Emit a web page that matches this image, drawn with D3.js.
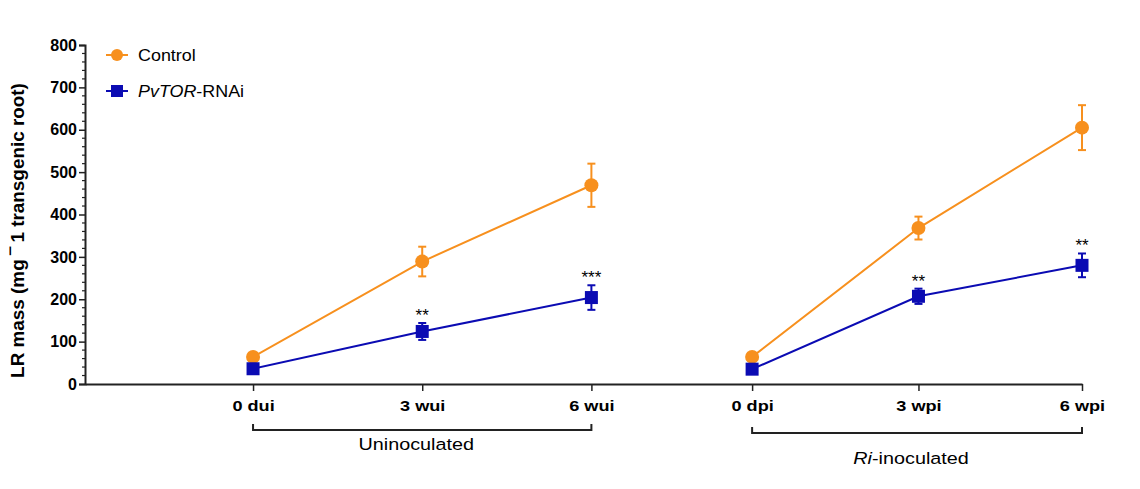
<!DOCTYPE html>
<html>
<head>
<meta charset="utf-8">
<script src="https://cdn.jsdelivr.net/npm/d3@7"></script>
<style>
  body { margin: 0; background: #fff; }
  text { font-family: Arial, "Liberation Sans", sans-serif; }
</style>
</head>
<body>
<div id="chart"></div>
<script>
// time points (x position in weeks along the axis)
const timeLabels = ["0 dui", "3 wui", "6 wui", "0 dpi", "3 wpi", "6 wpi"];
const timeX = [0, 3, 6, 8.85, 11.8, 14.7];

const controlMean = [64, 289, 469, 64, 368, 605];
const controlErr  = [0, 35, 51, 0, 27, 53];
const rnaiMean    = [36, 124, 204, 35, 207, 280];
const rnaiErr     = [0, 20, 29, 0, 18, 28];
const rnaiSig     = ["", "**", "***", "", "**", "**"];

const groups = [
    { name: "Uninoculated", from: 0, to: 2, y: 430, ty: 450 },
    { name: "Ri-inoculated", from: 3, to: 5, y: 433, ty: 464 }
];

const orange = "#f7901e", blue = "#0b0bb3";

const width = 1140, height = 489;
const svg = d3.select("#chart").append("svg")
    .attr("width", width)
    .attr("height", height);

const x = d3.scaleLinear().domain([-2.98, 14.7]).range([85, 1082]);
const y = d3.scaleLinear().domain([0, 800]).range([384, 45]);

// y axis
const yAxis = svg.append("g")
    .attr("transform", `translate(${x(-2.98)},0)`)
    .call(d3.axisLeft(y).tickValues(d3.range(0, 801, 100)).tickSize(6).tickPadding(2));
yAxis.selectAll("text").style("font-size", "16px").style("font-weight", "bold").attr("fill", "#000");
yAxis.select(".domain").attr("stroke", "#222").attr("stroke-width", 2);
yAxis.selectAll(".tick line").attr("stroke", "#222").attr("stroke-width", 1.5);

// minor ticks
svg.append("g").selectAll("line")
    .data(d3.range(0, 801, 20).filter(v => v % 100 !== 0))
    .enter().append("line")
    .attr("x1", x(-2.98) - 3).attr("x2", x(-2.98))
    .attr("y1", d => y(d)).attr("y2", d => y(d))
    .attr("stroke", "#222").attr("stroke-width", 1.2);

// x axis
const xAxis = svg.append("g")
    .attr("transform", `translate(0,${y(0)})`)
    .call(d3.axisBottom(x).tickValues(timeX).tickFormat((d, i) => timeLabels[i]).tickSize(7).tickPadding(10).tickSizeOuter(0));
xAxis.selectAll("text")
    .style("font-size", "14.5px").style("font-weight", "bold").attr("fill", "#000")
    .attr("transform", "scale(1.25,1)");
xAxis.select(".domain").attr("stroke", "#222").attr("stroke-width", 2);
xAxis.selectAll(".tick line").attr("stroke", "#222").attr("stroke-width", 1.5);

// y label
svg.append("text")
    .attr("transform", `translate(24,${(y(0) + 77) / 2}) rotate(-90) scale(1.05,1)`)
    .attr("text-anchor", "middle")
    .style("font-size", "18px").style("font-weight", "bold")
    .text("LR mass (mg \u203E 1 transgenic root)");

// group brackets
groups.forEach(g => {
    const x1 = x(timeX[g.from]), x2 = x(timeX[g.to]);
    svg.append("path")
        .attr("d", `M${x1},${g.y - 6}V${g.y}H${x2}V${g.y - 6}`)
        .attr("fill", "none").attr("stroke", "#222").attr("stroke-width", 2);
    const t = svg.append("text")
        .attr("transform", `translate(${(x1 + x2) / 2 - 6},${g.ty}) scale(1.2,1)`)
        .attr("text-anchor", "middle")
        .style("font-size", "16.5px");
    if (g.name.startsWith("Ri")) {
        t.append("tspan").style("font-style", "italic").text("Ri");
        t.append("tspan").text("-inoculated");
    } else {
        t.text(g.name);
    }
});

function drawSeries(mean, err, color, shape) {
    const pts = timeX.map((t, i) => ({ x: t, v: mean[i], e: err[i] }));
    const line = d3.line().x(d => x(d.x)).y(d => y(d.v));
    [pts.slice(0, 3), pts.slice(3)].forEach(seg => {
        svg.append("path").datum(seg)
            .attr("d", line)
            .attr("fill", "none").attr("stroke", color).attr("stroke-width", 2);
    });
    const eb = svg.append("g").selectAll("g").data(pts.filter(d => d.e > 0)).enter().append("g");
    eb.append("line")
        .attr("x1", d => x(d.x)).attr("x2", d => x(d.x))
        .attr("y1", d => y(d.v + d.e)).attr("y2", d => y(d.v - d.e))
        .attr("stroke", color).attr("stroke-width", 2);
    [1, -1].forEach(s => {
        eb.append("line")
            .attr("x1", d => x(d.x) - 4).attr("x2", d => x(d.x) + 4)
            .attr("y1", d => y(d.v + s * d.e)).attr("y2", d => y(d.v + s * d.e))
            .attr("stroke", color).attr("stroke-width", 2);
    });
    if (shape === "circle") {
        svg.append("g").selectAll("circle").data(pts).enter().append("circle")
            .attr("cx", d => x(d.x)).attr("cy", d => y(d.v)).attr("r", 7)
            .attr("fill", color);
    } else {
        svg.append("g").selectAll("rect").data(pts).enter().append("rect")
            .attr("x", d => x(d.x) - 6.5).attr("y", d => y(d.v) - 6.5)
            .attr("width", 13).attr("height", 13)
            .attr("fill", color);
    }
}

drawSeries(controlMean, controlErr, orange, "circle");
drawSeries(rnaiMean, rnaiErr, blue, "square");

// significance stars
svg.append("g").selectAll("text")
    .data(timeX.map((t, i) => ({ x: t, top: rnaiMean[i] + rnaiErr[i], s: rnaiSig[i] })).filter(d => d.s))
    .enter().append("text")
    .attr("x", d => x(d.x)).attr("y", d => y(d.top) - 2)
    .attr("text-anchor", "middle")
    .style("font-size", "17px")
    .text(d => d.s);

// legend
const legend = [
    { label: "Control", color: orange, shape: "circle", y: 55 },
    { label: "PvTOR", rest: "-RNAi", color: blue, shape: "square", y: 91 }
];
legend.forEach(l => {
    svg.append("line")
        .attr("x1", 106).attr("x2", 128).attr("y1", l.y).attr("y2", l.y)
        .attr("stroke", l.color).attr("stroke-width", 2);
    if (l.shape === "circle") {
        svg.append("circle").attr("cx", 117).attr("cy", l.y).attr("r", 6).attr("fill", l.color);
    } else {
        svg.append("rect").attr("x", 111).attr("y", l.y - 6).attr("width", 12).attr("height", 12).attr("fill", l.color);
    }
    const t = svg.append("text")
        .attr("transform", `translate(138,${l.y + 6}) scale(1.12,1)`)
        .style("font-size", "16px");
    if (l.rest) {
        t.append("tspan").style("font-style", "italic").text(l.label);
        t.append("tspan").text(l.rest);
    } else {
        t.text(l.label);
    }
});
</script>
</body>
</html>
